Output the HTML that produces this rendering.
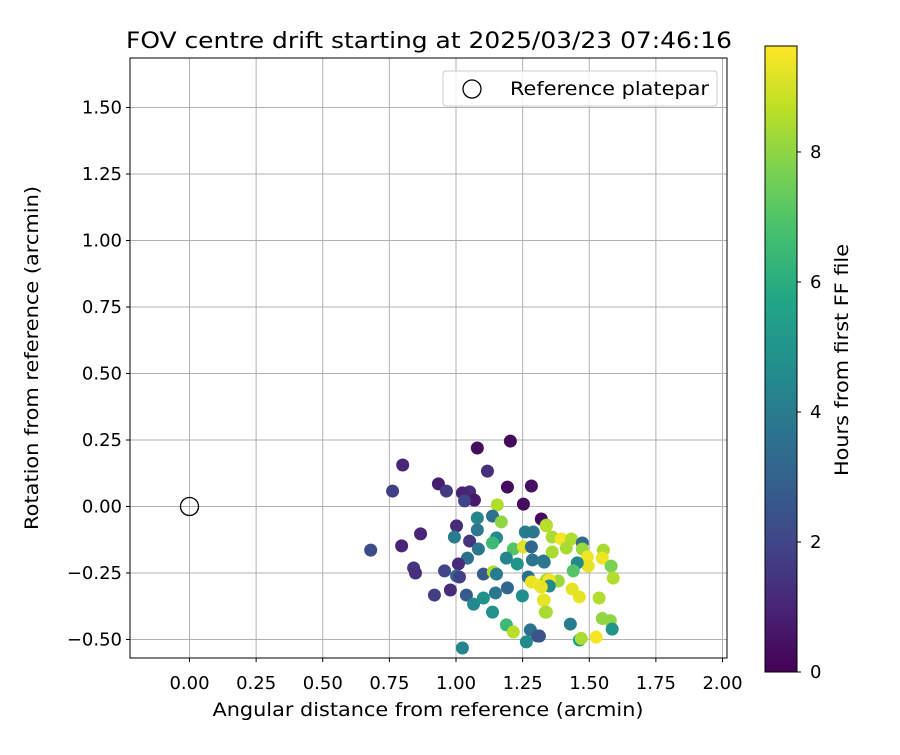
<!DOCTYPE html>
<html><head><meta charset="utf-8"><style>
body{margin:0;background:#fff}
svg text{font-family:"DejaVu Sans","Liberation Sans",sans-serif;fill:#000}
</style></head><body>
<svg id="chart" width="900" height="750" viewBox="0 0 900 750" xmlns="http://www.w3.org/2000/svg">
<defs><linearGradient id="vir" x1="0" y1="1" x2="0" y2="0">
<stop offset="0" stop-color="#440154"/><stop offset="0.1" stop-color="#482475"/><stop offset="0.2" stop-color="#414487"/><stop offset="0.3" stop-color="#355f8d"/><stop offset="0.4" stop-color="#2a788e"/><stop offset="0.5" stop-color="#21918c"/><stop offset="0.6" stop-color="#22a884"/><stop offset="0.7" stop-color="#44bf70"/><stop offset="0.8" stop-color="#7ad151"/><stop offset="0.9" stop-color="#bddf26"/><stop offset="1" stop-color="#fde725"/></linearGradient>
<clipPath id="clip"><rect x="130" y="58" width="597" height="600"/></clipPath></defs>
<text x="429" y="48" font-size="22" text-anchor="middle" textLength="606" lengthAdjust="spacingAndGlyphs">FOV centre drift starting at 2025/03/23 07:46:16</text>
<g id="grid"></g>
<g id="marks" clip-path="url(#clip)"></g>
<rect x="130" y="58" width="597" height="600" fill="none" stroke="#000" stroke-width="1"/>
<g id="ticks"></g>
<text x="428" y="716" font-size="19" text-anchor="middle" textLength="431" lengthAdjust="spacingAndGlyphs">Angular distance from reference (arcmin)</text>
<text transform="translate(38,358) rotate(-90)" font-size="19" text-anchor="middle" textLength="344" lengthAdjust="spacingAndGlyphs">Rotation from reference (arcmin)</text>
<g>
<rect x="443" y="71" width="274" height="35" rx="3" fill="#fff" fill-opacity="0.8" stroke="#ccc"/>
<circle cx="472" cy="89" r="9" fill="none" stroke="#000" stroke-width="1.3"/>
<text x="510" y="95" font-size="19" textLength="199" lengthAdjust="spacingAndGlyphs">Reference platepar</text>
</g>
<g>
<rect x="765" y="46" width="32" height="626" fill="url(#vir)" stroke="#000" stroke-width="1"/>
<g id="cticks"></g>
<text transform="translate(848,360) rotate(-90)" font-size="19" text-anchor="middle" textLength="232" lengthAdjust="spacingAndGlyphs">Hours from first FF file</text>
</g>
</svg>
<script>
const xTicks=[0,0.25,0.5,0.75,1,1.25,1.5,1.75,2];
const xTickLabels=["0.00","0.25","0.50","0.75","1.00","1.25","1.50","1.75","2.00"];
const yTicks=[-0.5,-0.25,0,0.25,0.5,0.75,1,1.25,1.5];
const yTickLabels=["−0.50","−0.25","0.00","0.25","0.50","0.75","1.00","1.25","1.50"];
const cTicks=[0,2,4,6,8];
const driftX=[1.204,1.080,0.800,1.118,0.934,0.762,0.964,1.051,1.024,1.069,1.032,1.193,1.283,1.155,1.253,1.320,1.080,1.137,1.170,1.002,1.080,0.867,0.994,1.051,1.152,0.796,0.680,1.137,1.084,1.215,1.253,1.283,1.260,1.290,1.339,1.043,1.189,1.230,1.287,1.328,1.009,0.841,0.848,0.957,1.002,1.013,1.103,1.140,1.152,1.271,1.283,1.313,1.339,1.193,0.979,0.919,1.039,1.148,1.249,1.066,1.103,1.328,1.137,1.335,1.189,1.215,1.279,1.305,1.264,1.024,1.339,1.361,1.395,1.433,1.474,1.414,1.361,1.474,1.553,1.493,1.549,1.496,1.582,1.455,1.440,1.590,1.331,1.384,1.350,1.350,1.320,1.436,1.463,1.537,1.331,1.339,1.429,1.549,1.579,1.586,1.463,1.470,1.526,1.313];
const driftY=[0.246,0.220,0.156,0.133,0.085,0.058,0.058,0.055,0.051,0.024,0.021,0.073,0.077,0.006,0.009,-0.047,-0.043,-0.036,-0.058,-0.073,-0.088,-0.103,-0.115,-0.130,-0.118,-0.148,-0.164,-0.137,-0.160,-0.160,-0.152,-0.152,-0.096,-0.096,-0.070,-0.194,-0.194,-0.216,-0.201,-0.205,-0.216,-0.231,-0.250,-0.242,-0.261,-0.265,-0.254,-0.246,-0.254,-0.265,-0.284,-0.295,-0.276,-0.306,-0.314,-0.333,-0.333,-0.325,-0.336,-0.367,-0.344,-0.352,-0.397,-0.397,-0.445,-0.472,-0.464,-0.487,-0.509,-0.532,-0.073,-0.115,-0.122,-0.122,-0.137,-0.156,-0.171,-0.160,-0.164,-0.190,-0.194,-0.224,-0.224,-0.212,-0.242,-0.269,-0.209,-0.280,-0.276,-0.299,-0.303,-0.310,-0.340,-0.344,-0.352,-0.397,-0.442,-0.421,-0.429,-0.461,-0.502,-0.496,-0.491,-0.487];
const hours=[0.3,0.3,1.0,1.3,0.8,1.8,1.6,1.2,0.9,0.7,2.0,0.3,0.4,8.5,0.3,0.3,4.3,3.6,8.0,1.2,3.8,1.0,4.0,1.5,4.5,1.0,2.2,6.5,3.8,7.0,9.2,3.2,4.0,3.8,8.0,3.5,4.3,5.0,3.7,3.8,1.2,1.5,1.3,2.0,3.2,1.8,2.7,8.5,4.0,3.5,9.3,9.5,8.5,3.2,1.2,1.8,2.7,3.8,4.7,4.5,4.8,9.3,4.8,8.6,6.5,8.6,3.6,2.8,4.5,4.3,8.6,8.4,9.5,8.5,3.3,8.4,8.4,8.2,8.4,9.4,9.4,9.3,7.7,4.5,7.0,8.5,3.8,8.2,9.4,4.5,9.3,9.3,9.3,8.5,9.3,8.4,4.0,8.0,8.0,5.0,5.5,8.4,9.5,2.5];
const hMax=9.63;
const NS="http://www.w3.org/2000/svg";
const sx=v=>189.5+v*266.5, sy=v=>506.5-v*266;
const cy=v=>672-v*(626/hMax);
const vir=["#440154","#482475","#414487","#355f8d","#2a788e","#21918c","#22a884","#44bf70","#7ad151","#bddf26","#fde725"];
function cmap(t){t=Math.max(0,Math.min(1,t))*10;const i=Math.min(9,Math.floor(t)),f=t-i;
const a=vir[i],b=vir[i+1];const p=(s,k)=>parseInt(s.substr(1+2*k,2),16);
return "rgb("+[0,1,2].map(k=>Math.round(p(a,k)+(p(b,k)-p(a,k))*f)).join(",")+")";}
function mk(tag,at,parent){const e=document.createElementNS(NS,tag);for(const k in at)e.setAttribute(k,at[k]);parent.appendChild(e);return e;}
const grid=document.getElementById('grid'),ticks=document.getElementById('ticks'),marks=document.getElementById('marks'),ct=document.getElementById('cticks');
xTicks.forEach((v,i)=>{
const g=mk('line',{x1:sx(v),x2:sx(v),y1:58,y2:658,stroke:'#b0b0b0','stroke-width':1},grid);


mk('line',{x1:sx(v),x2:sx(v),y1:658,y2:662,stroke:'#000'},ticks);
const t=mk('text',{x:sx(v),y:689,'font-size':18,'text-anchor':'middle'},ticks);t.textContent=xTickLabels[i];


});
yTicks.forEach((v,i)=>{
const g=mk('line',{x1:130,x2:727,y1:sy(v),y2:sy(v),stroke:'#b0b0b0','stroke-width':1},grid);


mk('line',{x1:126,x2:130,y1:sy(v),y2:sy(v),stroke:'#000'},ticks);
const t=mk('text',{x:122,y:sy(v)+6,'font-size':18,'text-anchor':'end'},ticks);t.textContent=yTickLabels[i];


});
cTicks.forEach(v=>{
mk('line',{x1:797,x2:801,y1:cy(v),y2:cy(v),stroke:'#000'},ct);
const t=mk('text',{x:810,y:cy(v)+6,'font-size':18},ct);t.textContent=String(v);


});
hours.forEach((h,i)=>{
const c=mk('circle',{cx:sx(driftX[i]),cy:sy(driftY[i]),r:6.5,fill:cmap(h/hMax)},marks);


});
const ref=mk('circle',{cx:sx(0),cy:sy(0),r:9,fill:'none',stroke:'#000','stroke-width':1.3},marks);


</script>
</body></html>
